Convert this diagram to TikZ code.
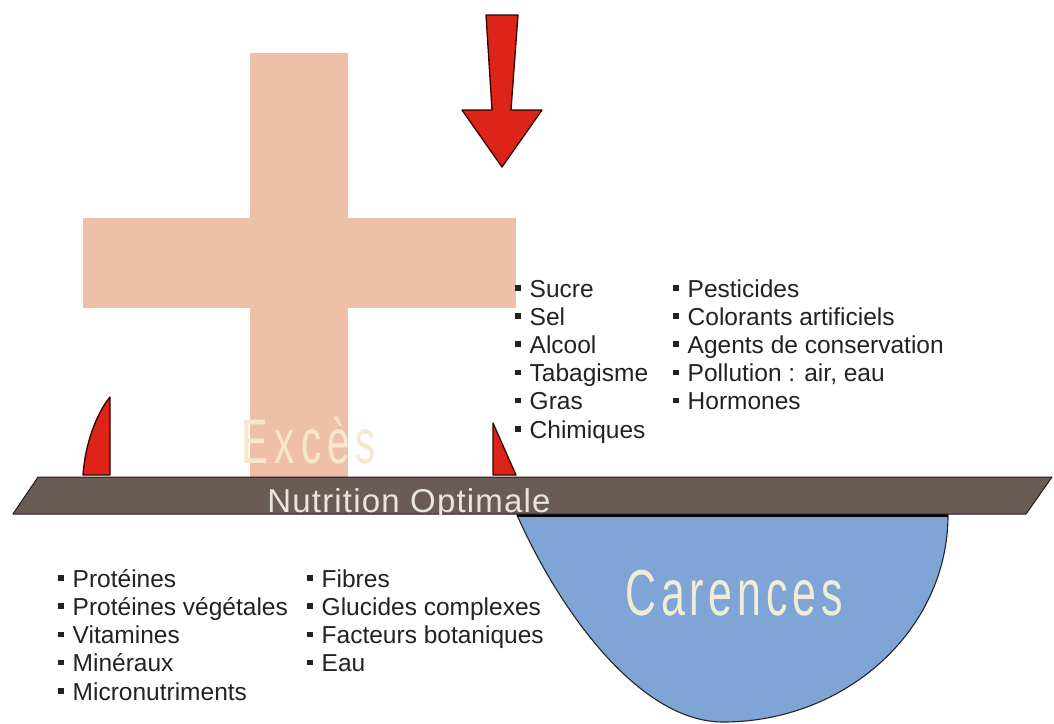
\documentclass[tikz,border=0pt]{standalone}
\usepackage{fontspec}
\setmainfont{Liberation Sans}
\definecolor{crossc}{HTML}{EFC0A8}
\definecolor{arrowred}{HTML}{DC2418}
\definecolor{barc}{HTML}{6B5B57}
\definecolor{bluec}{HTML}{7FA4D6}
\definecolor{creamc}{HTML}{F7E7CC}
\definecolor{cream2}{HTML}{F3ECD4}
\definecolor{nutric}{HTML}{E8E4E0}
\definecolor{txtc}{HTML}{222222}
\newcommand\blt{\makebox[14.5pt][l]{\rule[6.5pt]{5.5pt}{5.5pt}}}
\newcommand\gapE{\kern9.5pt}
\newcommand\gapC{\kern7.3pt}
\newcommand\gapN{\kern1.2pt}
\tikzset{
  redshape/.style={fill=arrowred, draw=black!80!red, line width=1.3pt, line join=round},
  listitem/.style={anchor=base west, inner sep=0pt, text=txtc, font=\fontsize{24.5}{28}\selectfont},
}
\begin{document}
\begin{tikzpicture}[x=1pt,y=-1pt]
\useasboundingbox (0,0) rectangle (1054,723);
% cross
\fill[crossc] (250,53) rectangle (348,477);
\fill[crossc] (83,218) rectangle (516,308);
% arrow
\draw[redshape] (486,15) -- (518,15) -- (511,110) -- (542,110) -- (502,167) -- (462,110) -- (492,110) -- cycle;
% horns
\draw[redshape] (83,475) -- (110,475) -- (110,397) .. controls (96,414) and (85,445) .. cycle;
\draw[redshape] (493,475) -- (516,475) -- (493,423) -- cycle;
% Exces text
\node (exces) [inner sep=0pt, anchor=base, text=creamc] at (309,463)
  {\scalebox{0.64}[1]{\fontsize{63}{63}\selectfont E\gapE x\gapE c\gapE è\gapE s}};
% carences shape
\draw[fill=bluec, draw=black!85, line width=1.1pt]
  (517,515) .. controls (560,612) and (640,722) .. (723,722)
  .. controls (847,722) and (948,629) .. (948,515) -- cycle;
\draw[black, line width=3pt] (517,515.5) -- (948,515.5);
% bar
\draw[fill=barc, draw=black!70!barc, line width=1pt, line join=round]
  (38,477) -- (1052,477) -- (1026,514) -- (13,514) -- cycle;
\begin{scope}
\clip (38,477) -- (1052,477) -- (1026,514) -- (13,514) -- cycle;
\node (nutri) [inner sep=0pt, anchor=base, text=nutric] at (409,512)
  {\scalebox{1.0}[1]{\fontsize{33}{33}\selectfont N\gapN u\gapN t\gapN r\gapN i\gapN t\gapN i\gapN o\gapN n\gapN{} O\gapN p\gapN t\gapN i\gapN m\gapN a\gapN l\gapN e}};
\end{scope}
\node (carences) [inner sep=0pt, anchor=base, text=cream2] at (734,615)
  {\scalebox{0.66}[1]{\fontsize{65}{65}\selectfont C\gapC a\gapC r\gapC e\gapC n\gapC c\gapC e\gapC s}};
% top lists
\foreach \t [count=\i] in {Sucre, Sel, Alcool, Tabagisme, Gras, Chimiques}
  \node (ta\i) [listitem] at (515, {297+(\i-1)*28.2}) {\blt\t};
\foreach \t [count=\i] in {Pesticides, Colorants artificiels, Agents de conservation, {Pollution : air, eau}, Hormones}
  \node (tb\i) [listitem] at (673, {297+(\i-1)*28.2}) {\blt\t};
% bottom lists
\foreach \t [count=\i] in {Protéines, Protéines végétales, Vitamines, Minéraux, Micronutriments}
  \node (ba\i) [listitem] at (58, {587+(\i-1)*28.25}) {\blt\t};
\foreach \t [count=\i] in {Fibres, Glucides complexes, Facteurs botaniques, Eau}
  \node (bb\i) [listitem] at (307, {587+(\i-1)*28.25}) {\blt\t};
\end{tikzpicture}
\end{document}
